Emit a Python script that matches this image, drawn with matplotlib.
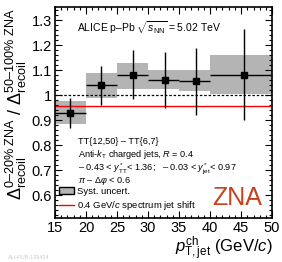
import matplotlib
matplotlib.use("Agg")
import matplotlib.pyplot as plt
from matplotlib.patches import Rectangle
from matplotlib.lines import Line2D
from matplotlib.ticker import MultipleLocator

plt.rcParams['font.family'] = ['Liberation Sans', 'DejaVu Sans']
plt.rcParams['mathtext.fontset'] = 'custom'
plt.rcParams['mathtext.rm'] = 'Liberation Sans'
plt.rcParams['mathtext.it'] = 'Liberation Sans:italic'
plt.rcParams['mathtext.sf'] = 'Liberation Sans'

# data
bin_lo = [15, 20, 25, 30, 35, 40]
bin_hi = [20, 25, 30, 35, 40, 50]
x_pts = [17.4, 22.45, 27.6, 32.7, 37.8, 45.4]
ratio = [0.931, 1.041, 1.083, 1.063, 1.057, 1.083]
stat_up = [0.99, 1.117, 1.18, 1.175, 1.19, 1.264]
stat_lo = [0.87, 0.961, 0.984, 0.951, 0.921, 0.901]
syst_up = [0.976, 1.091, 1.131, 1.10, 1.10, 1.16]
syst_lo = [0.885, 0.99, 1.024, 1.024, 1.017, 1.007]
shift_level = 0.958

fig = plt.figure(figsize=(2.82, 2.62), dpi=100)
ax = fig.add_axes([0.195, 0.168, 0.77, 0.807])

for lo, hi, su, sl in zip(bin_lo, bin_hi, syst_up, syst_lo):
    ax.add_patch(Rectangle((lo, sl), hi - lo, su - sl, facecolor='#b4b4b4',
                           edgecolor='none', zorder=1))

ax.axhline(1.0, color='black', ls=(0, (2, 1.5)), lw=0.9, zorder=2)
ax.axhline(shift_level, color='#ff0000', lw=1.0, zorder=2)

xerr = [[x - lo for x, lo in zip(x_pts, bin_lo)],
        [hi - x for x, hi in zip(x_pts, bin_hi)]]
yerr = [[r - l for r, l in zip(ratio, stat_lo)],
        [u - r for r, u in zip(ratio, stat_up)]]
ax.errorbar(x_pts, ratio, xerr=xerr, yerr=yerr, fmt='s', color='black',
            ms=4, lw=1.0, capsize=0, zorder=3)

ax.set_xlim(15, 50)
ax.set_ylim(0.51, 1.355)
ax.xaxis.set_major_locator(MultipleLocator(5))
ax.xaxis.set_minor_locator(MultipleLocator(1))
ax.yaxis.set_minor_locator(MultipleLocator(0.02))
ax.set_yticks([0.6, 0.7, 0.8, 0.9, 1.0, 1.1, 1.2, 1.3])
ax.set_yticklabels(['0.6', '0.7', '0.8', '0.9', '1', '1.1', '1.2', '1.3'])
ax.tick_params(which='both', direction='in', top=True, right=True,
               labelsize=10.5, width=0.8, pad=2)
ax.tick_params(which='major', length=5)
ax.tick_params(which='minor', length=2.5)
for s in ax.spines.values():
    s.set_linewidth(1.2)

ax.set_xlabel(r'$p_{\mathrm{T,jet}}^{\mathrm{ch}}$ (GeV/$c$)', fontsize=12,
              loc='right', labelpad=0)
ax.set_ylabel(r'$\Delta^{\mathrm{0–20\%\ ZNA}}_{\mathrm{recoil}}$ $/$ '
              r'$\Delta^{\mathrm{50–100\%\ ZNA}}_{\mathrm{recoil}}$',
              fontsize=13)
ax.yaxis.set_label_coords(-0.118, 0.54)

ax.text(0.1, 0.9, r'ALICE p–Pb $\sqrt{s_{\mathrm{NN}}}$ = 5.02 TeV',
        transform=ax.transAxes, fontsize=7.5, va='center')
txt = [r'TT{12,50} – TT{6,7}',
       r'Anti-$k_{\mathrm{T}}$ charged jets, $R$ = 0.4',
       r'– 0.43 < $y^*_{\mathrm{TT}}$< 1.36;   – 0.03 < $y^*_{\mathrm{jet}}$< 0.97',
       r'$\pi$ – $\Delta\varphi$ < 0.6']
for i, t in enumerate(txt):
    ax.text(0.105, 0.36 - i * 0.062, t, transform=ax.transAxes,
            fontsize=6.6, va='center')

leg_handles = [Rectangle((0, 0), 1, 1, facecolor='#b4b4b4', edgecolor='black', lw=1),
               Line2D([], [], color='#ff0000', lw=1)]
ax.legend(leg_handles, ['Syst. uncert.', r'0.4 GeV/$c$ spectrum jet shift'],
          loc='lower left', bbox_to_anchor=(0.01, 0.02), frameon=False,
          fontsize=6.8, handlelength=1.6, handletextpad=0.3, labelspacing=0.3,
          borderaxespad=0, borderpad=0.2)

ax.text(0.955, 0.095, 'ZNA', transform=ax.transAxes, fontsize=18,
        color='#c8401c', ha='right', va='center')

fig.text(0.03, 0.01, 'ALI-PUB-129424', fontsize=4, color='#cccccc')

fig.savefig('out.png', dpi=100)
